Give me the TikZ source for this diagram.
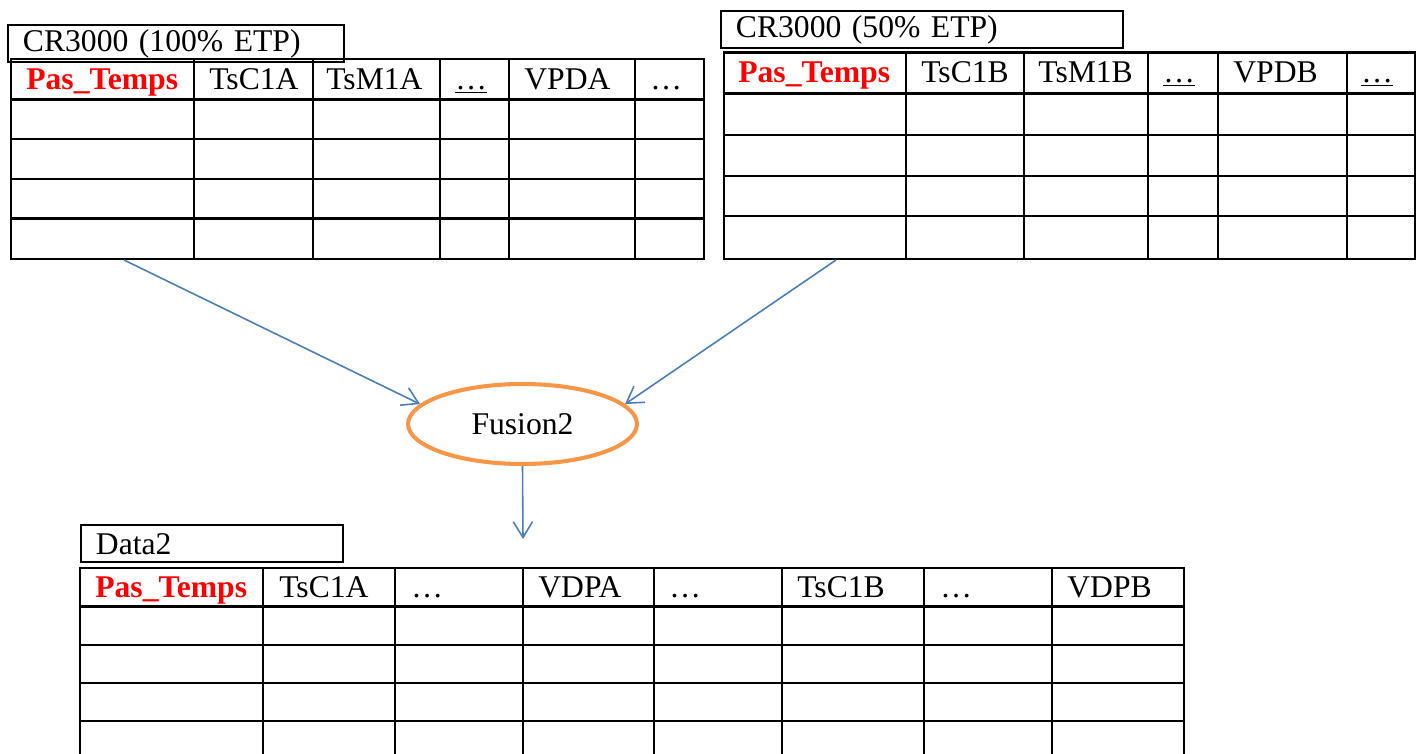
\documentclass[tikz,border=0pt]{standalone}
\usepackage{fontspec}
\setmainfont{Liberation Serif}
\usetikzlibrary{shapes.geometric,arrows.meta}
\definecolor{linkblue}{HTML}{4A7EBB}
\definecolor{fusorange}{HTML}{F79646}
\begin{document}
\begin{tikzpicture}[x=0.02cm,y=-0.02cm,
        grid/.style={line width=1.4pt,line cap=rect},
        titlebox/.style={draw,line width=1.1pt,anchor=north west,inner xsep=0.3cm,inner ysep=0pt,minimum height=0.75cm,align=left,font=\fontsize{18}{20}\selectfont},
        head/.style={anchor=base west,inner sep=0pt,font=\fontsize{18}{20}\selectfont},
        key/.style={head,text=red,font=\fontsize{18}{20}\selectfont\bfseries},
        link/.style={-{Straight Barb[length=9pt,width=11pt]},linkblue,line width=0.9pt}]
        \useasboundingbox (0,0) rectangle (1421,754);
        % CR3000 100%
        \foreach \x in {11,194,313,440,509,635,704} \draw[grid] (\x,59) -- (\x,259);
        \foreach \y in {59,99.5,139,179,218.5,259} \draw[grid] (11,\y) -- (704,\y);
        \node[titlebox,minimum width=6.72cm,text width=6.12cm](ta)at(7,24){CR3000 (100\% ETP)};
        \node[key](ka)at(26,89){Pas\_Temps};
        \node[head](ha1)at(209,89){TsC1A};
        \node[head](ha2)at(326,89){TsM1A};
        \node[head](ha3)at(455,89){\underline{…}};
        \node[head](ha4)at(524,89){VPDA};
        \node[head](ha5)at(650,89){…};
        % CR3000 50%
        \foreach \x in {724,906,1024,1148,1218,1347,1415} \draw[grid] (\x,52.5) -- (\x,259);
        \foreach \y in {52.5,93.5,135,176,216,259} \draw[grid] (724,\y) -- (1415,\y);
        \node[titlebox,minimum width=8.04cm,text width=7.44cm](tb)at(720,10){CR3000 (50\% ETP)};
        \node[key](kb)at(738,82){Pas\_Temps};
        \node[head](hb1)at(921,82){TsC1B};
        \node[head](hb2)at(1038,82){TsM1B};
        \node[head](hb3)at(1163,82){\underline{…}};
        \node[head](hb4)at(1233,82){VPDB};
        \node[head](hb5)at(1361,82){\underline{…}};
        % Data2
        \foreach \x in {80,263,395,523,654,782,924,1052,1184} \draw[grid] (\x,568) -- (\x,770);
        \foreach \y in {568,606.5,645,683,721} \draw[grid] (80,\y) -- (1184,\y);
        \node[titlebox,minimum width=5.24cm,text width=4.64cm](tc)at(80,524){Data2};
        \node[key](kc)at(95,597){Pas\_Temps};
        \node[head](hc1)at(279,597){TsC1A};
        \node[head](hc2)at(411,597){…};
        \node[head](hc3)at(538,597){VDPA};
        \node[head](hc4)at(669,597){…};
        \node[head](hc5)at(797,597){TsC1B};
        \node[head](hc6)at(940,597){…};
        \node[head](hc7)at(1067,597){VDPB};
        % fusion
        \node[ellipse,draw=fusorange,line width=2.3pt,minimum width=4.58cm,minimum height=1.6cm,font=\fontsize{18}{20}\selectfont](fus)at(522.5,424){Fusion2};
        \coordinate(sa)at(124,260);
        \coordinate(sb)at(836,260);
        \coordinate(dc)at(523,539);
        \draw[link](sa)--(fus.169);
        \draw[link](sb)--(fus.11);
        \draw[link](fus.south)--(dc);
    \end{tikzpicture}
\end{document}
